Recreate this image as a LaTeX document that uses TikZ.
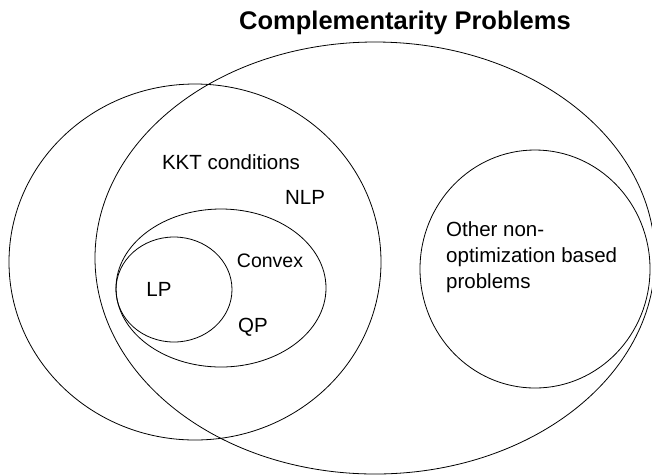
\documentclass[tikz,border=0pt]{standalone}
\usepackage{fontspec}
\setmainfont{Liberation Sans}
\usetikzlibrary{shapes.geometric}

\begin{document}
\begin{tikzpicture}[
    x=1pt, y=-1pt,
    set/.style={draw, ellipse, line width=0.8pt, inner sep=0pt},
    lbl/.style={font=\fontsize{20.5}{26}\selectfont, inner sep=0pt, align=left},
    title/.style={font=\fontsize{25.5}{30}\selectfont\bfseries, inner sep=0pt}
]
\useasboundingbox (0,0) rectangle (652,475);
% sets
\node[set, minimum width=560pt, minimum height=432pt] (cp) at (375,258) {};
\node[set, minimum width=372pt, minimum height=356pt] (kkt) at (195,262) {};
\node[set, minimum width=210pt, minimum height=158pt] (cvx) at (221,288) {};
\node[set, minimum width=116pt, minimum height=105pt] (lp) at (174,289.5) {};
\node[set, minimum width=230pt, minimum height=238pt] (other) at (535,269) {};
% labels
\node[title] (cptitle) at (405,23) {Complementarity Problems};
\node[lbl] (kkttext) at (231,162) {KKT conditions};
\node[lbl] (nlptext) at (305,197) {NLP};
\node[lbl, font=\fontsize{19.5}{24}\selectfont] (cvxtext) at (270,261) {Convex};
\node[lbl] (lptext) at (159,289) {LP};
\node[lbl] (qptext) at (253,327) {QP};
\node[lbl, anchor=west] (othertext) at (446,257) {Other non-\\optimization based\\problems};
\end{tikzpicture}
\end{document}
